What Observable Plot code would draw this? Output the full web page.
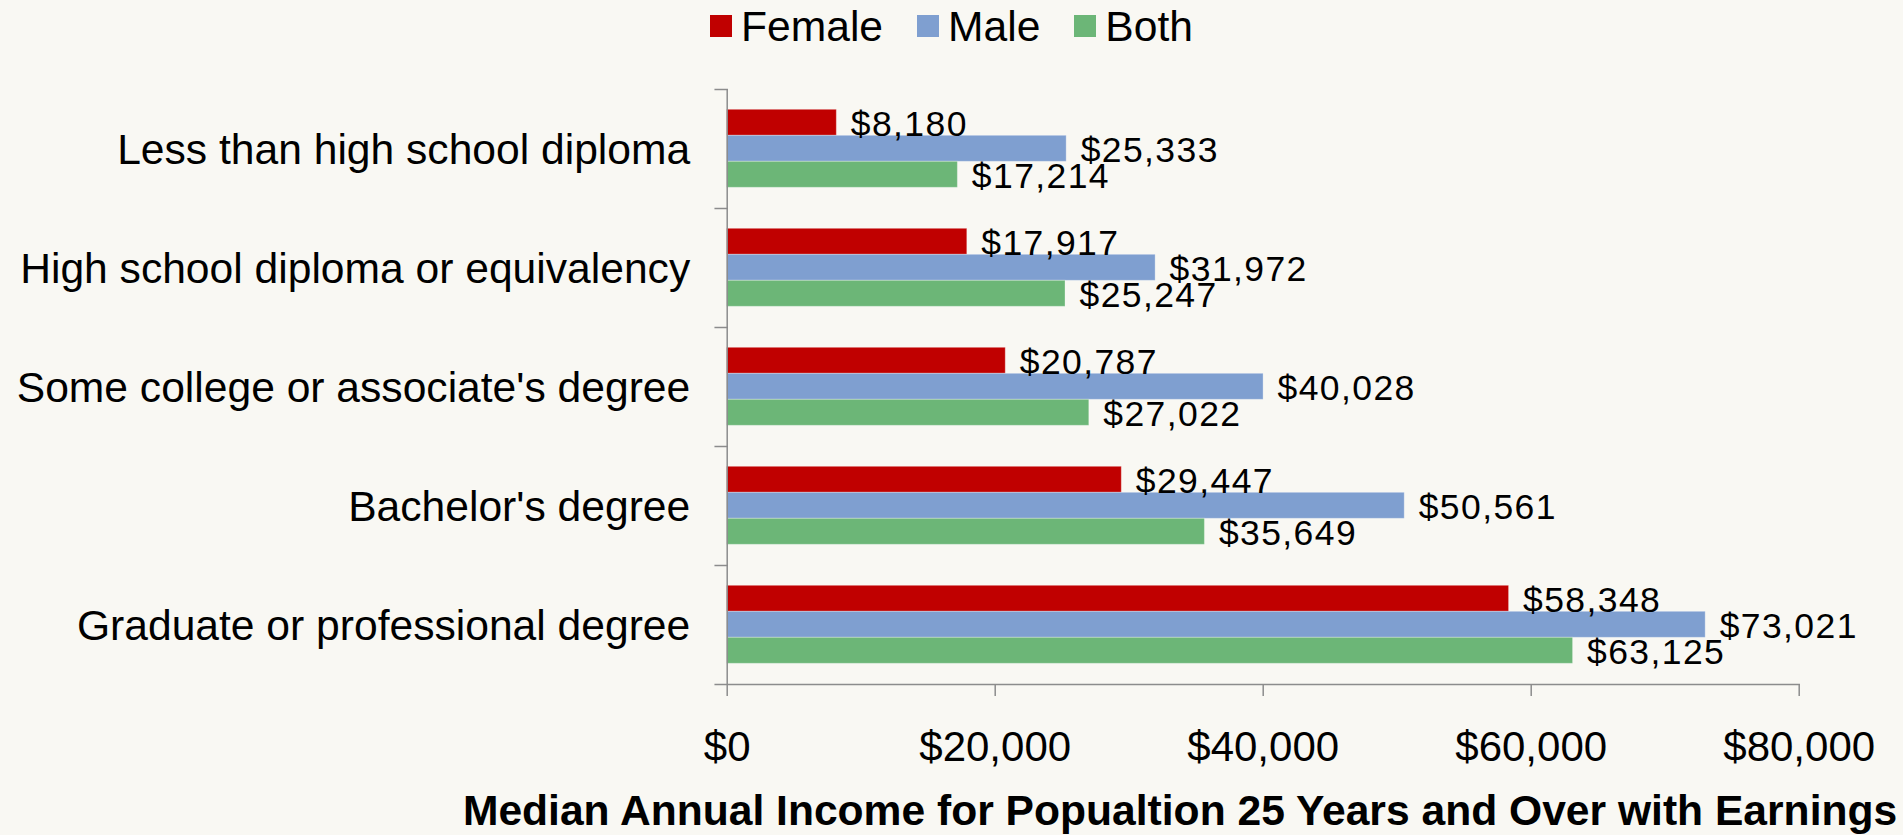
<!DOCTYPE html>
<html>
<head>
<meta charset="utf-8">
<script src="https://cdn.jsdelivr.net/npm/d3@7"></script>
<script src="https://cdn.jsdelivr.net/npm/@observablehq/plot@0.6"></script>
<style>
  html, body { margin: 0; padding: 0; background: #f9f8f3; }
  body { width: 1903px; height: 835px; overflow: hidden; font-family: "Liberation Sans", Arial, sans-serif; }
  #legend { height: 52px; display: flex; justify-content: center; align-items: center; font-size: 42.6px; color: #000; }
  #legend .item { display: flex; align-items: center; margin-right: 34px; }
  #legend .item:last-child { margin-right: 0; }
  #legend .sw { width: 22px; height: 22px; margin-right: 9px; }
  #chart svg { display: block; }
  g[aria-description="values"] text { letter-spacing: 1.4px; }
</style>
</head>
<body>
<div id="legend"></div>
<div id="chart"></div>
<script>
const categories = [
  "Less than high school diploma",
  "High school diploma or equivalency",
  "Some college or associate's degree",
  "Bachelor's degree",
  "Graduate or professional degree"
];
const series = ["Female", "Male", "Both"];
const female = [8180, 17917, 20787, 29447, 58348];
const male = [25333, 31972, 40028, 50561, 73021];
const both = [17214, 25247, 27022, 35649, 63125];
const xTicks = [0, 20000, 40000, 60000, 80000];
const colors = ["#c00000", "#7f9fd0", "#6cb677"];
const axisTitle = "Median Annual Income for Popualtion 25 Years and Over with Earnings";

const seriesValues = [female, male, both];
const rows = categories.flatMap((c, i) =>
  series.map((s, j) => ({category: c, series: s, value: seriesValues[j][i]}))
);

// Legend
const legend = document.getElementById("legend");
series.forEach((s, j) => {
  const item = document.createElement("div");
  item.className = "item";
  const sw = document.createElement("div");
  sw.className = "sw";
  sw.style.background = colors[j];
  const lab = document.createElement("span");
  lab.textContent = s;
  item.appendChild(sw);
  item.appendChild(lab);
  legend.appendChild(item);
});

const W = 1903, H = 783;
const mL = 726.7, mR = 104.3, mT = 34.7, mB = 149.3;
const plotW = W - mL - mR;
const fmt = d3.format("$,");
const gray = "#8c8c8c";
const last = categories[categories.length - 1];

const chart = Plot.plot({
  width: W,
  height: H,
  marginLeft: mL,
  marginRight: mR,
  marginTop: mT,
  marginBottom: mB,
  style: {
    background: "transparent",
    fontFamily: '"Liberation Sans", Arial, sans-serif',
    fontSize: "42px",
    color: "#000",
    overflow: "visible"
  },
  x: {domain: d3.extent(xTicks), axis: null},
  y: {domain: series, padding: 0, insetTop: 20, insetBottom: 20, axis: null},
  fy: {domain: categories, padding: 0, axis: null},
  color: {domain: series, range: colors},
  marks: [
    Plot.barX(rows, {x: "value", y: "series", fy: "category", fill: "series", stroke: "#ffffff", strokeOpacity: 0.3, strokeWidth: 1}),
    Plot.ruleX([0], {stroke: gray, strokeWidth: 1.5}),
    Plot.frame({anchor: "top", insetLeft: -12, insetRight: plotW, stroke: gray, strokeWidth: 1.5}),
    Plot.frame({anchor: "bottom", fy: last, insetLeft: -12, stroke: gray, strokeWidth: 1.5}),
    Plot.axisX({ticks: xTicks, tickFormat: fmt, tickSize: 12, tickPadding: 35, fontSize: 42, label: null, stroke: gray, strokeWidth: 1.5}),
    Plot.axisFy({anchor: "left", tickSize: 0, tickPadding: 37, fontSize: 42.6, label: null, dy: 1}),
    Plot.text(rows, {x: "value", y: "series", fy: "category", text: d => fmt(d.value), textAnchor: "start", dx: 14, dy: 2, fontSize: 35.5, fill: "#000", ariaDescription: "values"}),
    Plot.text([{category: last, t: axisTitle}], {fy: "category", text: "t", frameAnchor: "bottom-right", textAnchor: "end", lineAnchor: "top", dx: 98, dy: 110, fontSize: 42.6, fontWeight: "bold", fill: "#000"})
  ]
});
document.getElementById("chart").appendChild(chart);
</script>
</body>
</html>
